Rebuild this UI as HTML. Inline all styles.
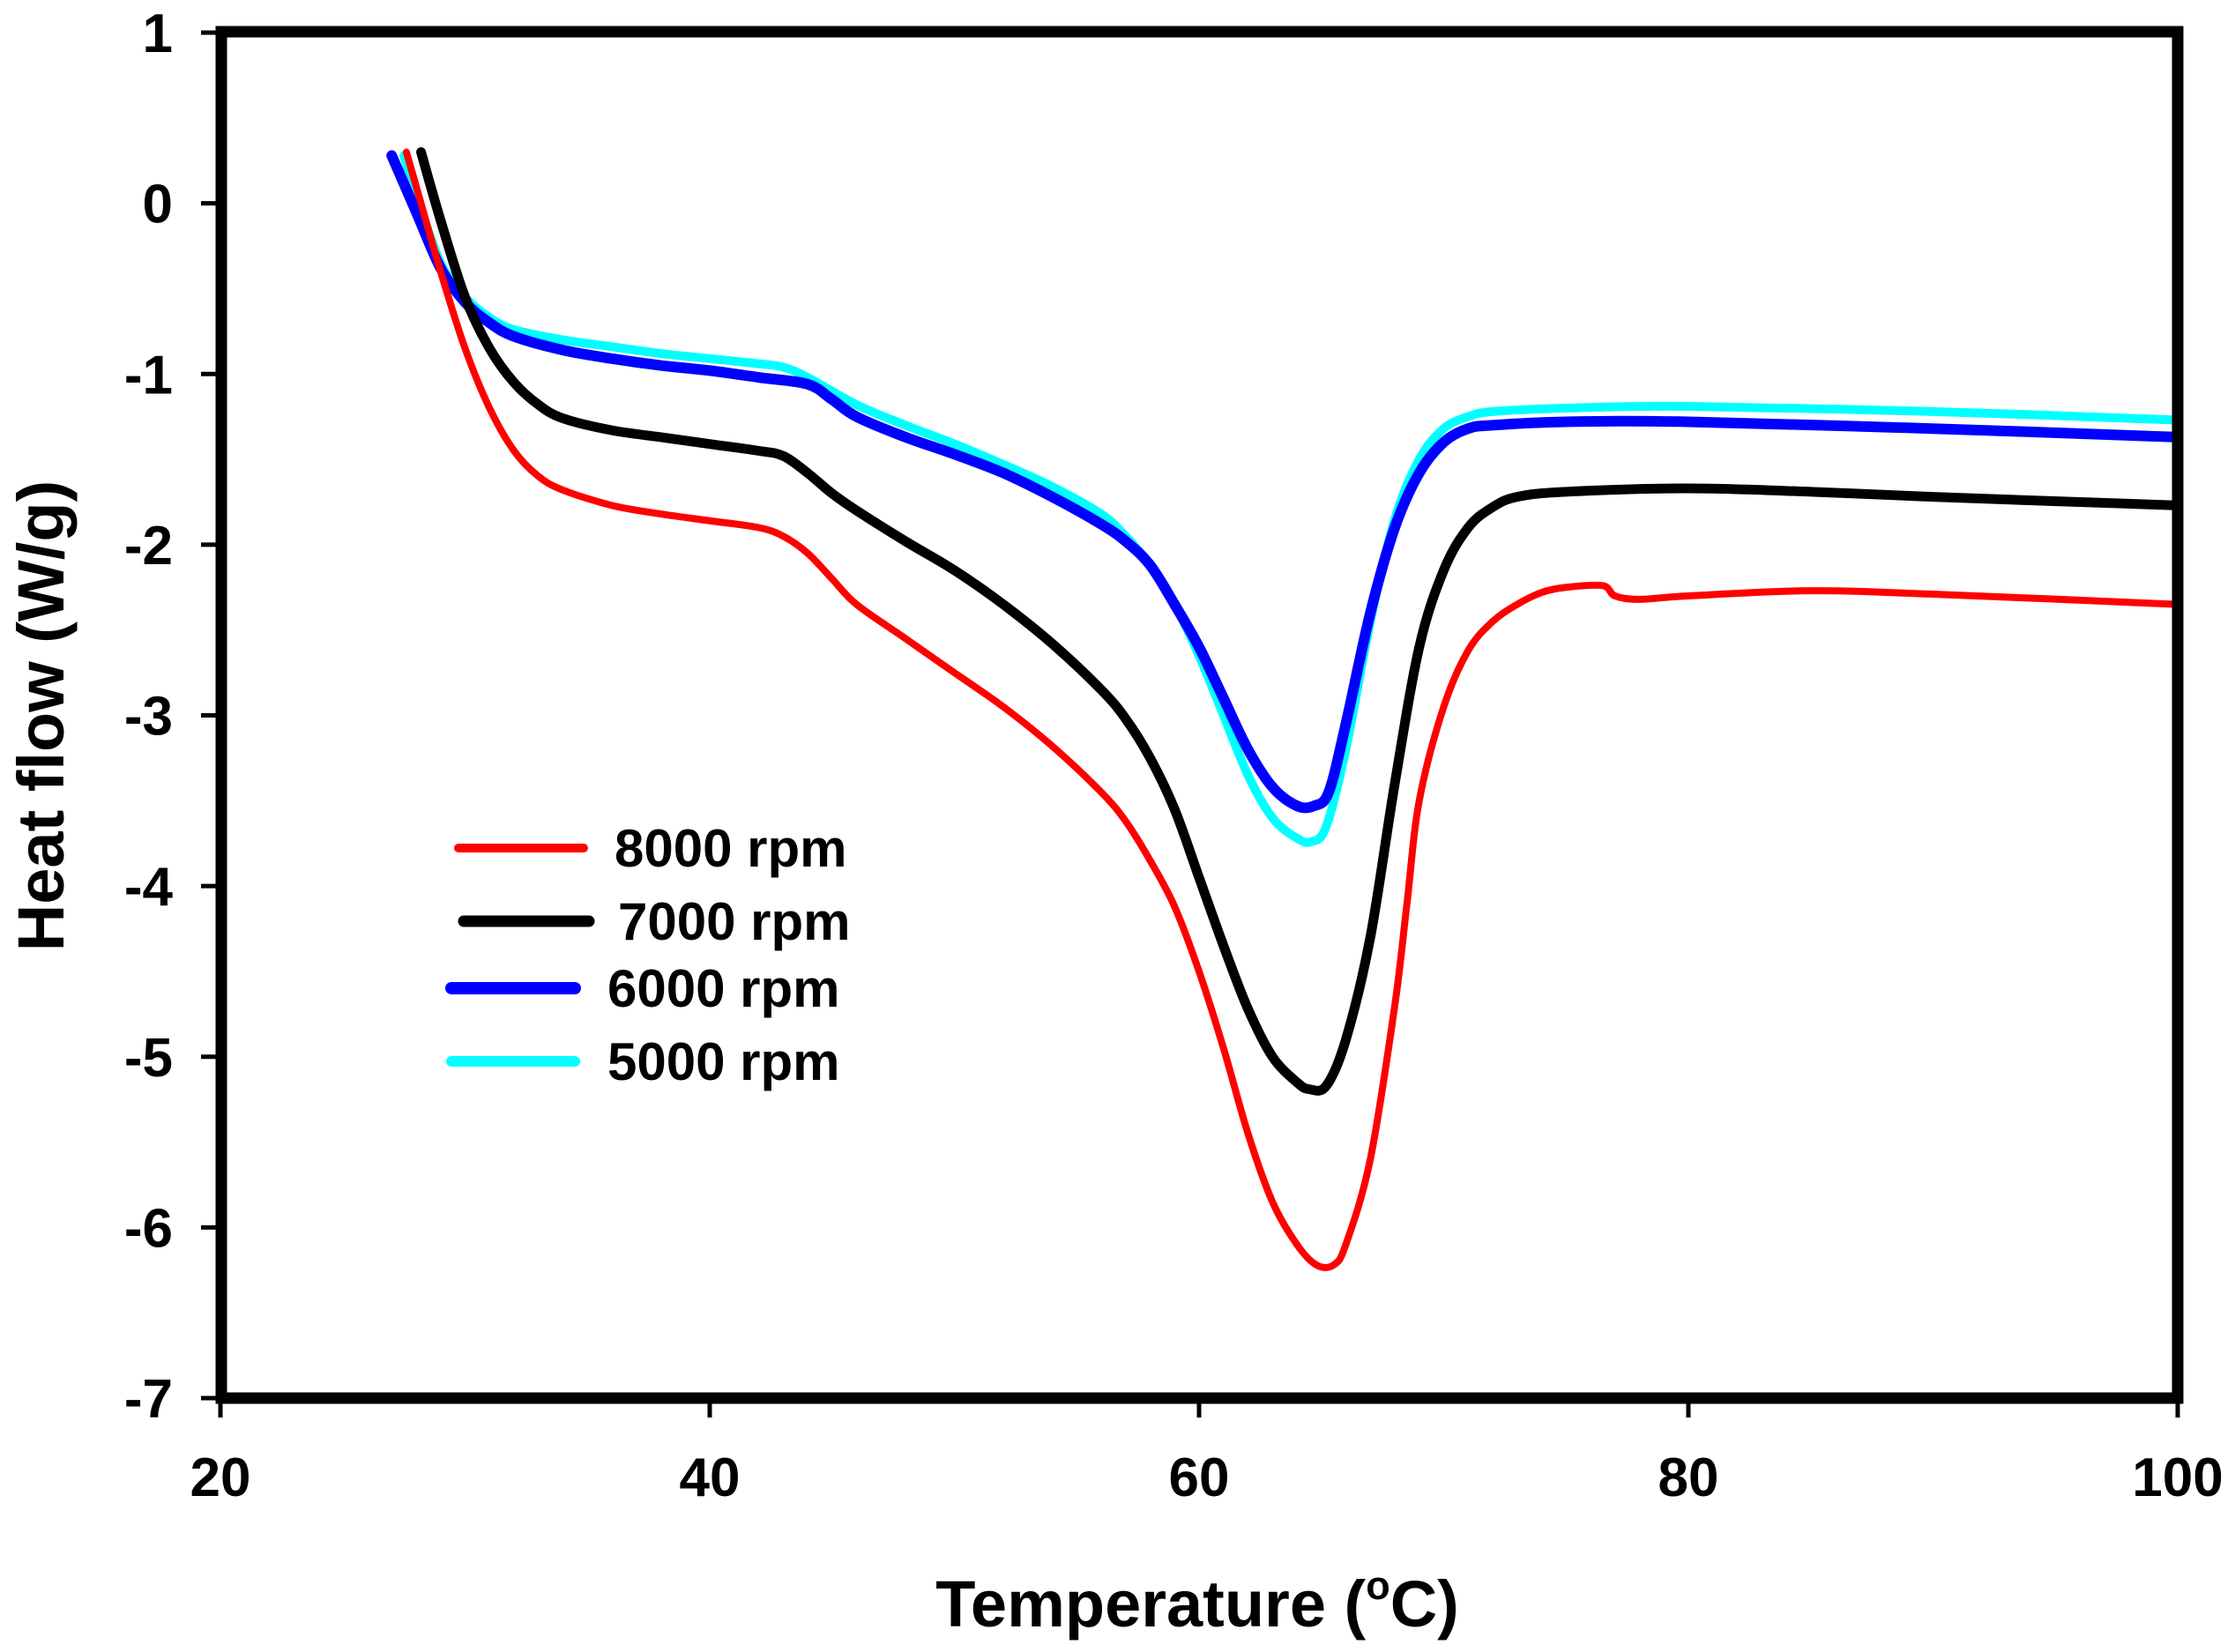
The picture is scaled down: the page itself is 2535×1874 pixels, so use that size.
<!DOCTYPE html>
<html><head><meta charset="utf-8"><style>
html,body{margin:0;padding:0;background:#fff;}
svg{display:block;font-family:"Liberation Sans",Arial,sans-serif;font-weight:bold;}
</style></head><body>
<svg id="chart" width="2535" height="1874" viewBox="0 0 2535 1874" xmlns="http://www.w3.org/2000/svg">
<g id="series"></g>
<rect x="251" y="36" width="2219" height="1550" fill="none" stroke="#000" stroke-width="13"/>
<g id="ticks"></g>
<text x="1358" y="1845" font-size="74" text-anchor="middle">Temperature (<tspan font-size="45" dy="-31">o</tspan><tspan dy="31">C)</tspan></text>
<text transform="translate(72,812) rotate(-90)" font-size="74" text-anchor="middle">Heat flow (W/g)</text>
<g id="legend"></g>
</svg>
<script>
const seriesNames=["8000 rpm","7000 rpm","6000 rpm","5000 rpm"];
const seriesColors=["#ff0000","#000000","#0000ff","#00ffff"];
const seriesWidths=[8,11,12,10];
const redX=[27.6,28,29,30,31,32,33,34,36,38,40,42,43,44,45,46,48,50,52,54,56,57,58,59,60,61,62,63,64,64.8,65.5,66,67,68,68.5,69,70,71,72,73,74,75,76.5,77,78,80,85,90,100];
const redY=[0.3,0.1,-0.4,-0.85,-1.2,-1.45,-1.6,-1.68,-1.77,-1.82,-1.86,-1.9,-1.95,-2.05,-2.2,-2.35,-2.55,-2.75,-2.95,-3.18,-3.45,-3.62,-3.85,-4.12,-4.5,-4.95,-5.45,-5.85,-6.1,-6.22,-6.22,-6.1,-5.6,-4.7,-4.1,-3.5,-2.95,-2.62,-2.45,-2.35,-2.28,-2.25,-2.24,-2.3,-2.32,-2.3,-2.27,-2.29,-2.35];
const blackX=[28.2,29,30,31,32,33,34,36,38,40,42,43,44,45,46,48,50,52,54,56,57,58,59,60,61,62,63,64,64.5,65.2,66,67,68,69,70,71,72,73,75,80,85,90,100];
const blackY=[0.3,-0.1,-0.55,-0.85,-1.05,-1.18,-1.26,-1.33,-1.37,-1.41,-1.45,-1.48,-1.58,-1.7,-1.8,-1.98,-2.15,-2.35,-2.58,-2.85,-3.02,-3.25,-3.55,-3.95,-4.35,-4.72,-5.0,-5.15,-5.19,-5.17,-4.9,-4.3,-3.4,-2.6,-2.15,-1.9,-1.78,-1.72,-1.69,-1.67,-1.69,-1.72,-1.77];
const blueX=[27,28,29,30,31,32,34,36,38,40,42,44,45,46,48,50,52,54,56,57,58,59,60,61,62,63,64,64.7,65.3,66,67,68,69,70,71,72,75,80,90,100];
const blueY=[0.28,-0.05,-0.38,-0.58,-0.7,-0.78,-0.86,-0.91,-0.95,-0.98,-1.02,-1.06,-1.15,-1.25,-1.37,-1.47,-1.58,-1.72,-1.88,-1.98,-2.12,-2.35,-2.6,-2.9,-3.2,-3.42,-3.53,-3.53,-3.45,-3.05,-2.4,-1.9,-1.58,-1.4,-1.32,-1.3,-1.28,-1.28,-1.32,-1.37];
const cyanX=[27.5,28,29,30,31,32,34,36,38,40,42,43,44,46,48,50,52,54,56,57,58,59,60,61,62,63,64,64.6,65.2,66,67,68,69,70,71,72,75,80,90,100];
const cyanY=[0.28,0.05,-0.35,-0.55,-0.67,-0.74,-0.8,-0.84,-0.88,-0.91,-0.94,-0.96,-1.02,-1.18,-1.3,-1.41,-1.53,-1.66,-1.82,-1.95,-2.12,-2.35,-2.65,-3.0,-3.35,-3.6,-3.72,-3.74,-3.65,-3.2,-2.45,-1.85,-1.5,-1.32,-1.25,-1.22,-1.2,-1.19,-1.22,-1.27];
const xTicks=[20,40,60,80,100];
const yTicks=[1,0,-1,-2,-3,-4,-5,-6,-7];
const NS="http://www.w3.org/2000/svg";
function sx(v){return 250+(v-20)*(2470-250)/80;}
function sy(v){return 37+(1-v)*(1586-37)/8;}
const seriesX=[redX,blackX,blueX,cyanX],seriesY=[redY,blackY,blueY,cyanY];
const g=document.getElementById('series');
[3,2,1,0].forEach(i=>{
  const xs=seriesX[i],ys=seriesY[i];
  const pts=xs.map((x,j)=>[sx(x),sy(ys[j])]);
  let d='M'+pts[0][0]+','+pts[0][1];
  for(let j=0;j<pts.length-1;j++){
    const p0=pts[Math.max(0,j-1)],p1=pts[j],p2=pts[j+1],p3=pts[Math.min(pts.length-1,j+2)];
    const c1=[p1[0]+(p2[0]-p0[0])/6,p1[1]+(p2[1]-p0[1])/6];
    const c2=[p2[0]-(p3[0]-p1[0])/6,p2[1]-(p3[1]-p1[1])/6];
    d+=' C'+c1+' '+c2+' '+p2;
  }
  const p=document.createElementNS(NS,'path');
  p.setAttribute('d',d);p.setAttribute('fill','none');
  p.setAttribute('stroke',seriesColors[i]);p.setAttribute('stroke-width',seriesWidths[i]);
  p.setAttribute('stroke-linecap','round');p.setAttribute('stroke-linejoin','round');
  
  
  g.appendChild(p);
});
const t=document.getElementById('ticks');
xTicks.forEach(v=>{
  const l=document.createElementNS(NS,'line');
  l.setAttribute('x1',sx(v));l.setAttribute('x2',sx(v));l.setAttribute('y1',1586);l.setAttribute('y2',1608);
  l.setAttribute('stroke','#000');l.setAttribute('stroke-width',5);
  
  
  t.appendChild(l);
  const tx=document.createElementNS(NS,'text');
  tx.setAttribute('x',sx(v));tx.setAttribute('y',1697);tx.setAttribute('font-size',62);tx.setAttribute('text-anchor','middle');
  tx.textContent=v;
  
  
  t.appendChild(tx);
});
yTicks.forEach(v=>{
  const l=document.createElementNS(NS,'line');
  l.setAttribute('x1',228);l.setAttribute('x2',251);l.setAttribute('y1',sy(v));l.setAttribute('y2',sy(v));
  l.setAttribute('stroke','#000');l.setAttribute('stroke-width',5);
  
  
  t.appendChild(l);
  const tx=document.createElementNS(NS,'text');
  tx.setAttribute('x',196);tx.setAttribute('y',sy(v)+22);tx.setAttribute('font-size',62);tx.setAttribute('text-anchor','end');
  tx.textContent=v;
  
  
  t.appendChild(tx);
});
const lg=document.getElementById('legend');
const legY=[962,1045,1121,1204],legX1=[520,526,512,512],legX2=[662,668,652,652],legTX=[697,701,689,689];
seriesNames.forEach((n,i)=>{
  const l=document.createElementNS(NS,'line');
  l.setAttribute('x1',legX1[i]);l.setAttribute('x2',legX2[i]);l.setAttribute('y1',legY[i]);l.setAttribute('y2',legY[i]);
  l.setAttribute('stroke',seriesColors[i]);l.setAttribute('stroke-width',seriesWidths[i]+2);l.setAttribute('stroke-linecap','round');
  
  
  lg.appendChild(l);
  const tx=document.createElementNS(NS,'text');
  tx.setAttribute('x',legTX[i]);tx.setAttribute('y',legY[i]+21);tx.setAttribute('font-size',60);
  tx.textContent=n;
  
  
  lg.appendChild(tx);
});
</script>
</body></html>
